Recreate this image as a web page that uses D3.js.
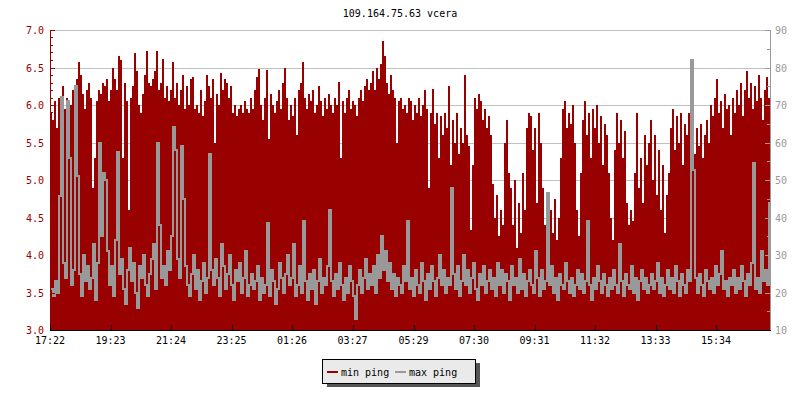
<!DOCTYPE html>
<html>
<head>
<meta charset="utf-8">
<script src="https://cdn.jsdelivr.net/npm/d3@7"></script>
<style>
  body { margin: 0; background: #fff; }
  svg { display: block; }
  text { font-family: "DejaVu Sans Mono", monospace; font-size: 10px; }
</style>
</head>
<body>
<svg id="vis" width="800" height="400"></svg>
<script>
// chart text
const chartTitle = "109.164.75.63 vcera";
const seriesNames = ["min ping", "max ping"];
const tickLabels = ["17:22", "19:23", "21:24", "23:25", "01:26", "03:27", "05:29", "07:30", "09:31", "11:32", "13:33", "15:34"];
const leftTicks = [3.0, 3.5, 4.0, 4.5, 5.0, 5.5, 6.0, 6.5, 7.0];
const rightTicks = [10, 20, 30, 40, 50, 60, 70, 80, 90];

// one sample every 4 minutes from 17:22
const minPing = [
  5.9, 5.8, 6.05, 5.7, 6.1, 6.0, 6.25, 5.95, 6.1, 5.85, 6.0, 6.2, 5.9, 6.35, 6.58, 6.4, 6.15, 5.95, 6.2, 6.3,
  6.1, 4.9, 5.3, 6.05, 6.2, 6.15, 6.3, 6.25, 6.35, 6.05, 6.2, 6.5, 6.35, 6.2, 6.65, 6.6, 5.3, 6.3, 6.05, 4.6,
  6.1, 6.25, 6.7, 6.45, 6.0, 5.9, 6.15, 6.4, 6.72, 6.3, 6.25, 6.35, 6.45, 6.72, 6.2, 6.3, 6.62, 6.1, 6.25, 6.05,
  6.2, 6.57, 6.1, 6.3, 6.0, 6.2, 6.4, 5.95, 6.25, 6.0, 6.35, 6.38, 5.95, 6.0, 5.9, 6.2, 5.85, 6.05, 6.4, 6.25,
  6.1, 6.35, 5.5, 6.15, 6.0, 6.43, 6.2, 6.35, 6.3, 6.1, 6.25, 5.9, 6.0, 5.85, 5.95, 6.0, 5.9, 6.05, 5.95, 5.9,
  6.1, 5.95, 6.2, 6.38, 6.48, 6.0, 5.8, 6.1, 6.47, 5.55, 6.15, 6.0, 5.9, 6.05, 6.2, 5.95, 6.3, 6.5, 6.1, 5.8,
  6.0, 5.85, 6.1, 5.6, 6.2, 6.3, 6.57, 6.1, 5.95, 6.15, 6.05, 6.2, 5.9, 6.0, 6.25, 6.05, 5.85, 6.1, 5.95, 6.15,
  6.0, 5.9, 6.1, 6.0, 6.31, 5.3, 6.05, 5.9, 6.1, 6.2, 5.95, 6.05, 6.0, 5.85, 6.1, 6.2, 6.05, 6.25, 6.35, 6.2,
  6.3, 6.45, 6.2, 6.5, 6.35, 6.55, 6.85, 6.65, 6.3, 6.15, 6.4, 6.2, 6.1, 5.5, 6.05, 6.1, 5.95, 6.0, 5.9, 6.1,
  6.05, 5.8, 6.0, 5.9, 6.1, 5.85, 6.0, 6.2, 5.95, 4.9, 5.9, 6.22, 5.75, 5.9, 5.3, 5.85, 5.6, 5.9, 5.7, 6.25,
  5.2, 5.8, 5.5, 5.9, 5.35, 5.7, 5.5, 6.4, 5.6, 5.45, 4.33, 5.2, 6.1, 5.95, 6.15, 6.05, 5.8, 5.95, 5.7, 5.85,
  5.6, 4.95, 4.5, 4.8, 4.25, 4.6, 4.4, 5.5, 5.8, 5.1, 4.9, 4.4, 5.0, 4.1, 4.7, 4.3, 5.1, 4.6, 5.7, 5.9,
  5.85, 5.4, 5.7, 4.7, 5.9, 5.5, 4.9, 4.4, 4.8, 4.15, 4.6, 4.3, 4.75, 4.2, 4.5, 5.3, 5.95, 6.05, 5.7, 5.9,
  5.75, 6.0, 5.5, 4.6, 4.25, 5.1, 5.8, 6.05, 5.6, 5.9, 5.3, 5.95, 5.7, 6.0, 5.5, 5.85, 5.2, 5.75, 5.6, 5.1,
  4.5, 4.2, 5.4, 5.9, 5.5, 5.8, 5.3, 5.65, 4.7, 4.4, 4.6, 4.45, 5.1, 5.9, 4.9, 5.3, 4.7, 5.6, 5.2, 5.5,
  5.8, 5.0, 5.6, 4.8, 5.4, 4.6, 5.2, 4.3, 4.8, 5.1, 5.7, 5.95, 5.4, 5.85, 5.5, 5.9, 5.2, 5.75, 5.6, 5.9,
  5.5, 5.8, 5.35, 5.7, 5.45, 5.75, 5.3, 5.6, 5.8, 5.5, 6.0, 5.85, 6.1, 6.35, 5.9, 6.05, 5.7, 6.15, 5.95, 6.0,
  5.6, 6.1, 5.9, 6.2, 6.0, 6.3, 5.85, 6.2, 6.45, 6.1, 6.3, 5.95, 6.25, 6.05, 6.4, 6.1, 5.8, 6.2, 6.38, 6.1
];
const maxPing = [
  21, 19, 23, 20, 45.7, 72, 28, 24, 71, 56, 22, 26, 75, 51, 25, 19, 30, 23, 27, 21,
  24, 33, 18, 28, 60, 35, 52, 50, 31, 22, 27, 19, 34, 57.5, 25, 29, 21, 17, 26, 32,
  23, 28, 20, 16, 27, 24, 30, 22, 19, 25, 29, 33, 21, 60, 38, 24, 27, 22, 31, 26,
  35, 64, 58, 29, 24, 59, 45, 27, 22, 19, 25, 30, 21, 26, 18, 23, 28, 20, 24, 57,
  26, 22, 29, 24, 19, 33, 27, 21, 25, 30, 22, 18, 26, 23, 28, 20, 24, 31, 19, 22,
  25, 21, 23, 27, 18, 24, 20, 22, 38.5, 19, 26, 23, 17, 21, 28, 24, 20, 25, 30, 22,
  24, 33, 19, 22, 27, 20, 39, 23, 18, 25, 21, 26, 17, 23, 29, 20, 24, 22, 27, 42,
  23, 19, 25, 21, 28, 22, 18, 24, 20, 27, 23, 19, 13, 22, 26, 20, 24, 29, 21, 25,
  22, 27, 20, 30, 24, 35, 26, 31, 23, 28, 21, 25, 19, 24, 22, 20, 27, 23, 39, 21,
  24, 19, 26, 22, 20, 28, 23, 18, 25, 21, 27, 23, 19, 24, 30, 22, 26, 20, 24, 22,
  48, 25, 21, 27, 19, 23, 30, 22, 26, 20, 24, 28, 21, 18, 25, 22, 27, 20, 23, 26,
  21, 24, 19, 28, 22, 26, 20, 25, 23, 18, 27, 22, 24, 20, 29, 21, 25, 19, 23, 26,
  22, 20, 31, 24, 19, 26, 21, 23, 46.5, 22, 27, 20, 24, 18, 25, 22, 21, 28, 23, 20,
  24, 19, 22, 26, 21, 25, 20, 23, 39, 22, 18, 24, 21, 27, 23, 20, 25, 22, 19, 24,
  21, 26, 22, 20, 33, 23, 19, 25, 22, 21, 27, 20, 24, 18, 23, 26, 21, 24, 20, 22,
  25, 21, 23, 28, 20, 24, 19, 22, 26, 21, 24, 20, 27, 23, 19, 25, 22, 20, 26, 23,
  82, 52.7, 24, 20, 25, 22, 19, 26, 23, 21, 24, 20, 27, 22, 25, 31, 21, 23, 19, 24,
  22, 26, 20, 24, 21, 27, 23, 19, 25, 22, 28, 54.5, 21, 24, 20, 31, 23, 26, 22, 44
];

const RED = "#990000";
const GREY = "#999999";
const GRID = "#c0c0c0";

function drawChart() {
  const svg = d3.select("#vis");
  const left = 50, right = 770, top = 30, bottom = 330;

  const start = new Date(2020, 0, 1, 17, 22);
  const step = 4 * 60 * 1000;
  const data = minPing.map((v, i) => ({
    t: new Date(+start + i * step),
    t2: new Date(+start + (i + 1) * step),
    min: v,
    max: maxPing[i]
  }));

  const x = d3.scaleTime()
    .domain([start, new Date(+start + 24 * 3600 * 1000)])
    .range([left, right]);
  const yL = d3.scaleLinear().domain([3, 7]).range([bottom, top]);
  const yR = d3.scaleLinear().domain([10, 90]).range([bottom, top]);

  // title
  svg.append("text")
    .attr("x", 400).attr("y", 17)
    .attr("text-anchor", "middle")
    .style("fill", "#000")
    .text(chartTitle);

  // horizontal grid
  svg.append("g").selectAll("line")
    .data(leftTicks)
    .join("line")
      .attr("x1", left).attr("x2", right)
      .attr("y1", d => Math.round(yL(d)) + 0.5)
      .attr("y2", d => Math.round(yL(d)) + 0.5)
      .style("stroke", GRID);

  // min ping as filled bars
  svg.append("g")
    .attr("shape-rendering", "crispEdges")
    .selectAll("rect")
    .data(data)
    .join("rect")
      .attr("x", d => x(d.t))
      .attr("width", d => x(d.t2) - x(d.t))
      .attr("y", d => yL(d.min))
      .attr("height", d => yL(3) - yL(d.min))
      .style("fill", RED);

  // max ping line on the right scale
  const line = d3.line()
    .x(d => Math.round(x(d.t)) + 1)
    .y(d => Math.round(yR(d.max)))
    .curve(d3.curveStepAfter);
  svg.append("path")
    .datum(data)
    .attr("d", line)
    .attr("shape-rendering", "crispEdges")
    .style("fill", "none")
    .style("stroke", GREY)
    .style("stroke-width", 2);

  // left axis
  const minorL = d3.range(30, 71).map(d => d / 10);
  const gl = svg.append("g").attr("shape-rendering", "crispEdges");
  gl.append("line")
    .attr("x1", left + 0.5).attr("x2", left + 0.5)
    .attr("y1", top).attr("y2", bottom)
    .style("stroke", RED);
  gl.selectAll(".minor")
    .data(minorL)
    .join("line")
      .attr("class", "minor")
      .attr("x1", left).attr("x2", d => left + (Math.abs(d * 2 - Math.round(d * 2)) < 1e-6 ? 5 : 3))
      .attr("y1", d => Math.round(yL(d)) + 0.5)
      .attr("y2", d => Math.round(yL(d)) + 0.5)
      .style("stroke", RED);
  gl.selectAll("text")
    .data(leftTicks)
    .join("text")
      .attr("x", 44)
      .attr("y", d => yL(d) + 4)
      .attr("text-anchor", "end")
      .style("fill", RED)
      .text(d => d.toFixed(1));

  // right axis
  const minorR = d3.range(10, 91, 5);
  const gr = svg.append("g").attr("shape-rendering", "crispEdges");
  gr.append("line")
    .attr("x1", right + 0.5).attr("x2", right + 0.5)
    .attr("y1", top).attr("y2", bottom)
    .style("stroke", GREY);
  gr.selectAll(".minor")
    .data(minorR)
    .join("line")
      .attr("class", "minor")
      .attr("x1", d => right - (d % 10 === 0 ? 5 : 3)).attr("x2", right)
      .attr("y1", d => Math.round(yR(d)) + 0.5)
      .attr("y2", d => Math.round(yR(d)) + 0.5)
      .style("stroke", GREY);
  gr.selectAll("text")
    .data(rightTicks)
    .join("text")
      .attr("x", 775)
      .attr("y", d => yR(d) + 4)
      .style("fill", GREY)
      .text(d => d);

  // bottom axis
  const tickDates = tickLabels.map(s => {
    const [h, m] = s.split(":").map(Number);
    return new Date(2020, 0, h < 17 ? 2 : 1, h, m);
  });
  const gx = svg.append("g").attr("shape-rendering", "crispEdges");
  gx.append("line")
    .attr("x1", left).attr("x2", right + 1)
    .attr("y1", bottom + 0.5).attr("y2", bottom + 0.5)
    .style("stroke", "#000");
  gx.selectAll(".tick")
    .data(tickDates)
    .join("line")
      .attr("class", "tick")
      .attr("x1", d => Math.round(x(d)) + 0.5).attr("x2", d => Math.round(x(d)) + 0.5)
      .attr("y1", bottom - 5).attr("y2", bottom)
      .style("stroke", "#000");
  gx.selectAll("text")
    .data(tickDates)
    .join("text")
      .attr("x", d => x(d))
      .attr("y", 344)
      .attr("text-anchor", "middle")
      .style("fill", "#000")
      .text((d, i) => tickLabels[i]);

  // legend
  const lg = svg.append("g").attr("shape-rendering", "crispEdges");
  lg.append("rect")
    .attr("x", 327).attr("y", 363).attr("width", 153).attr("height", 24)
    .style("fill", "#555");
  lg.append("rect")
    .attr("x", 322.5).attr("y", 359.5).attr("width", 153).attr("height", 24)
    .style("fill", "#eaeaea").style("stroke", "#000");
  const items = [
    {name: seriesNames[0], color: RED, x: 327},
    {name: seriesNames[1], color: GREY, x: 395}
  ];
  items.forEach(it => {
    lg.append("rect")
      .attr("x", it.x).attr("y", 371).attr("width", 11).attr("height", 2)
      .style("fill", it.color);
    lg.append("text")
      .attr("x", it.x + 14).attr("y", 375.5)
      .style("fill", "#000")
      .text(it.name);
  });
}
drawChart();
</script>
</body>
</html>
